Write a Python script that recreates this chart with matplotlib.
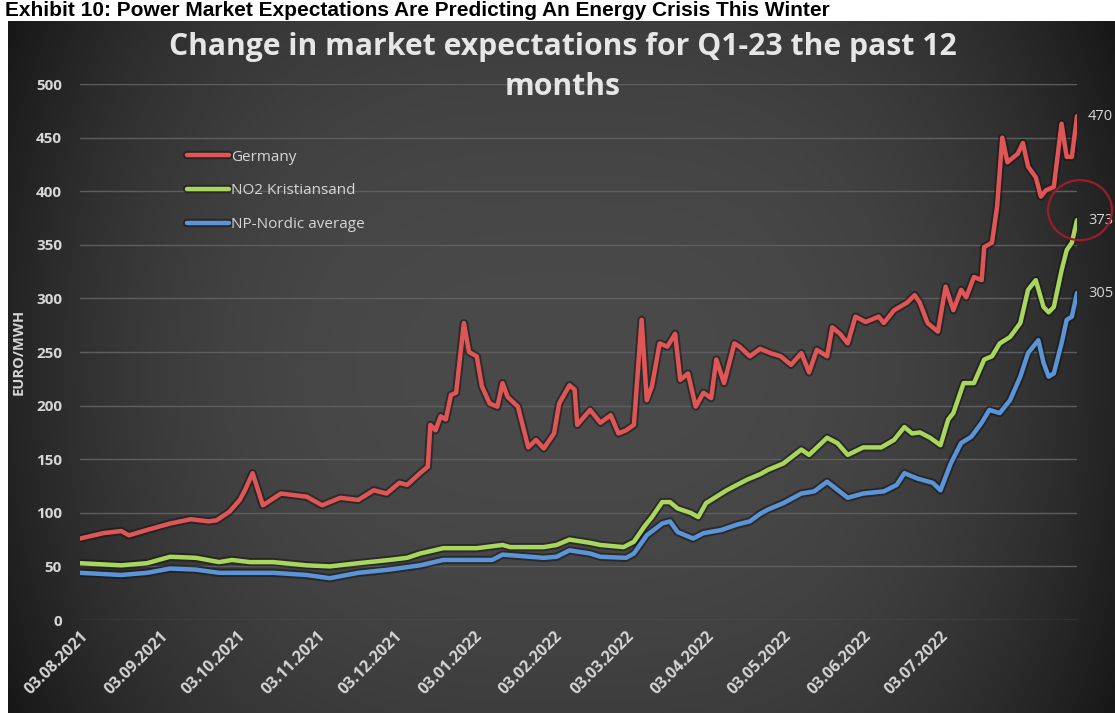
import numpy as np
import pandas as pd
import matplotlib
matplotlib.use("Agg")
import matplotlib.pyplot as plt
import matplotlib.patheffects as pe
from matplotlib.patches import Ellipse
from matplotlib.transforms import ScaledTranslation
import matplotlib.dates as mdates

# ---------------------------------------------------------------- data
header = "Exhibit 10: Power Market Expectations Are Predicting An Energy Crisis This Winter"
title = "Change in market expectations for Q1-23 the past 12\nmonths"
y_label = "EURO/MWH"
series_names = ["Germany", "NO2 Kristiansand", "NP-Nordic average"]
tick_dates = ["2021-08-03", "2021-09-03", "2021-10-03", "2021-11-03",
              "2021-12-03", "2022-01-03", "2022-02-03", "2022-03-03",
              "2022-04-03", "2022-05-03", "2022-06-03", "2022-07-03"]
y_ticks = [0, 50, 100, 150, 200, 250, 300, 350, 400, 450, 500]

germany_dates = [
    "2021-08-03", "2021-08-12", "2021-08-19", "2021-08-22", "2021-08-29",
    "2021-09-07", "2021-09-15", "2021-09-22", "2021-09-25", "2021-09-30",
    "2021-10-04", "2021-10-06", "2021-10-09", "2021-10-13", "2021-10-20",
    "2021-10-30", "2021-11-05", "2021-11-12", "2021-11-19", "2021-11-25",
    "2021-11-30", "2021-12-05", "2021-12-08", "2021-12-13", "2021-12-16",
    "2021-12-17", "2021-12-19", "2021-12-21", "2021-12-23", "2021-12-25",
    "2021-12-27", "2021-12-30", "2022-01-01", "2022-01-04", "2022-01-06",
    "2022-01-09", "2022-01-12", "2022-01-14", "2022-01-16", "2022-01-20",
    "2022-01-24", "2022-01-27", "2022-01-30", "2022-02-03", "2022-02-05",
    "2022-02-09", "2022-02-11", "2022-02-12", "2022-02-17", "2022-02-21",
    "2022-02-25", "2022-02-28", "2022-03-03", "2022-03-06", "2022-03-09",
    "2022-03-11", "2022-03-13", "2022-03-16", "2022-03-19", "2022-03-22",
    "2022-03-24", "2022-03-27", "2022-03-30", "2022-04-02", "2022-04-05",
    "2022-04-07", "2022-04-10", "2022-04-14", "2022-04-16", "2022-04-20",
    "2022-04-24", "2022-04-28", "2022-05-02", "2022-05-06", "2022-05-10",
    "2022-05-13", "2022-05-16", "2022-05-20", "2022-05-22", "2022-05-25",
    "2022-05-28", "2022-05-31", "2022-06-04", "2022-06-09", "2022-06-11",
    "2022-06-15", "2022-06-20", "2022-06-23", "2022-06-25", "2022-06-28",
    "2022-07-02", "2022-07-05", "2022-07-08", "2022-07-11", "2022-07-13",
    "2022-07-16", "2022-07-19", "2022-07-20", "2022-07-23", "2022-07-25",
    "2022-07-27", "2022-07-29", "2022-08-02", "2022-08-04", "2022-08-06",
    "2022-08-09", "2022-08-11", "2022-08-13", "2022-08-16", "2022-08-19",
    "2022-08-21", "2022-08-23", "2022-08-25"]
germany_values = [
    76, 81, 83, 79, 84,
    90, 94, 92, 93, 101,
    112, 121, 137, 107, 118,
    115, 107, 114, 112, 121,
    118, 128, 126, 137, 143,
    182, 177, 190, 187, 210,
    212, 277, 250, 246, 218,
    202, 199, 221, 208, 199,
    161, 168, 160, 174, 202,
    219, 215, 182, 196, 184,
    191, 174, 177, 182, 280,
    205, 218, 258, 255, 267,
    224, 230, 199, 212, 207,
    243, 221, 258, 255, 246,
    253, 249, 246, 238, 249,
    231, 252, 246, 273, 267,
    258, 283, 278, 283, 277,
    289, 296, 303, 296, 277,
    269, 311, 289, 308, 301,
    320, 317, 348, 352, 386,
    450, 427, 435, 445, 423,
    413, 395, 401, 404, 463,
    432, 432, 470]

no2_dates = [
    "2021-08-03", "2021-08-19", "2021-08-29", "2021-09-07", "2021-09-17",
    "2021-09-26", "2021-10-01", "2021-10-08", "2021-10-17", "2021-10-30",
    "2021-11-08", "2021-11-19", "2021-12-01", "2021-12-08", "2021-12-13",
    "2021-12-22", "2022-01-04", "2022-01-14", "2022-01-17", "2022-01-30",
    "2022-02-04", "2022-02-09", "2022-02-17", "2022-02-21", "2022-03-02",
    "2022-03-06", "2022-03-10", "2022-03-13", "2022-03-17", "2022-03-20",
    "2022-03-23", "2022-03-28", "2022-03-31", "2022-04-03", "2022-04-07",
    "2022-04-11", "2022-04-15", "2022-04-19", "2022-04-24", "2022-04-27",
    "2022-05-03", "2022-05-10", "2022-05-13", "2022-05-20", "2022-05-24",
    "2022-05-28", "2022-06-03", "2022-06-10", "2022-06-15", "2022-06-19",
    "2022-06-22", "2022-06-25", "2022-06-29", "2022-07-03", "2022-07-06",
    "2022-07-08", "2022-07-12", "2022-07-16", "2022-07-20", "2022-07-23",
    "2022-07-26", "2022-07-30", "2022-08-03", "2022-08-06", "2022-08-09",
    "2022-08-12", "2022-08-14", "2022-08-16", "2022-08-19", "2022-08-21",
    "2022-08-23", "2022-08-25"]
no2_values = [
    53, 51, 53, 59, 58,
    54, 56, 54, 54, 51,
    50, 53, 56, 58, 62,
    67, 67, 70, 68, 68,
    70, 75, 72, 70, 68,
    73, 87, 96, 110, 110,
    104, 100, 96, 109, 115,
    121, 126, 131, 136, 140,
    146, 159, 154, 170, 165,
    154, 161, 161, 168, 180,
    174, 175, 170, 163, 187,
    193, 221, 221, 243, 246,
    258, 264, 277, 308, 317,
    292, 287, 292, 326, 345,
    352, 373]

nordic_dates = [
    "2021-08-03", "2021-08-19", "2021-08-29", "2021-09-07", "2021-09-17",
    "2021-09-26", "2021-10-08", "2021-10-17", "2021-10-30", "2021-11-08",
    "2021-11-19", "2021-12-01", "2021-12-13", "2021-12-22", "2022-01-10",
    "2022-01-14", "2022-01-30", "2022-02-04", "2022-02-09", "2022-02-17",
    "2022-02-21", "2022-03-03", "2022-03-06", "2022-03-11", "2022-03-17",
    "2022-03-20", "2022-03-23", "2022-03-29", "2022-04-02", "2022-04-09",
    "2022-04-15", "2022-04-20", "2022-04-24", "2022-04-27", "2022-05-03",
    "2022-05-10", "2022-05-15", "2022-05-20", "2022-05-28", "2022-06-03",
    "2022-06-11", "2022-06-16", "2022-06-19", "2022-06-24", "2022-06-30",
    "2022-07-03", "2022-07-07", "2022-07-11", "2022-07-15", "2022-07-19",
    "2022-07-22", "2022-07-26", "2022-07-30", "2022-08-03", "2022-08-06",
    "2022-08-10", "2022-08-12", "2022-08-14", "2022-08-16", "2022-08-19",
    "2022-08-21", "2022-08-23", "2022-08-25"]
nordic_values = [
    44, 42, 44, 48, 47,
    44, 44, 44, 42, 39,
    44, 47, 51, 56, 56,
    61, 58, 59, 65, 62,
    59, 58, 62, 79, 90,
    92, 82, 76, 81, 84,
    89, 92, 99, 103, 109,
    118, 120, 129, 114, 118,
    120, 126, 137, 132, 128,
    121, 146, 165, 171, 184,
    196, 193, 205, 227, 249,
    261, 240, 227, 230, 258,
    280, 283, 305]

# ---------------------------------------------------------------- style
W, H, DPI = 1115, 713, 100
text_grey = "#d6d6d6"
grid_grey = "#5e5e5e"
line_colors = ["#e05656", "#a9d65c", "#5b95d8"]
FONT = "Open Sans"

fig = plt.figure(figsize=(W / DPI, H / DPI), dpi=DPI, facecolor="white")

# dark chart panel with a soft vignette
panel = fig.add_axes([8 / W, 0, 1 - 8 / W, (H - 21) / H])
u = np.linspace(-1, 1, 400)[None, :]
v = np.linspace(-1, 1, 300)[:, None]
shade = 0.29 - 0.15 * np.abs(u) ** 3 - 0.05 * v ** 2
panel.imshow(np.dstack([shade] * 3).clip(0, 1), aspect="auto",
             extent=[0, 1, 0, 1], interpolation="bicubic")
panel.set_axis_off()

# header line above the panel
fig.text(5 / W, 1 - 16 / H, header, fontsize=15, fontweight="bold",
         family="Liberation Sans", color="black", va="baseline", ha="left")

# chart title
fig.text(563 / W, 1 - 67 / H, title, fontsize=21.7, fontweight="bold",
         family=FONT, color="#e6e6e6", ha="center", va="center",
         linespacing=1.42)

ax = fig.add_axes([80 / W, (H - 620) / H, 997 / W, 536 / H])
ax.set_facecolor("none")

dates = [pd.to_datetime(d) for d in (germany_dates, no2_dates, nordic_dates)]
values = [germany_values, no2_values, nordic_values]

shadow = [pe.Stroke(linewidth=6, foreground="#151515", alpha=0.55), pe.Normal()]
handles = []
for d, vals, c, name in zip(dates, values, line_colors, series_names):
    ln, = ax.plot(d, vals, color=c, lw=3.2, solid_joinstyle="round",
                  solid_capstyle="round", label=name, path_effects=shadow,
                  zorder=3)
    handles.append(ln)
    ax.annotate(f"{vals[-1]}", xy=(d[-1], vals[-1]), xytext=(8, 0),
                textcoords="offset points", va="center", ha="left",
                fontsize=10.5, family=FONT, color=text_grey,
                annotation_clip=False)

ax.set_xlim(dates[0][0], dates[0][-1])
ax.set_ylim(0, 500)
ax.set_yticks(y_ticks)
ax.set_yticklabels([str(t) for t in y_ticks], fontsize=11, family=FONT,
                   fontweight="bold", color=text_grey)
ticks = pd.to_datetime(tick_dates)
ax.set_xticks(ticks)
ax.set_xticklabels([t.strftime("%d.%m.%Y") for t in ticks], fontsize=11.5,
                   family=FONT, fontweight="bold", color=text_grey,
                   rotation=45, ha="right", rotation_mode="anchor")
ax.tick_params(axis="both", length=0)
ax.tick_params(axis="y", pad=13)
ax.tick_params(axis="x", pad=6)
ax.grid(axis="y", color=grid_grey, lw=1)
ax.set_axisbelow(True)
for s in ax.spines.values():
    s.set_visible(False)

fig.text(19 / W, (H - 352) / H, y_label, rotation=90, fontsize=10.5,
         fontweight="bold", family=FONT, color=text_grey,
         ha="center", va="center")

leg = ax.legend(handles=handles, loc="upper left",
                bbox_to_anchor=(0.107, 0.8775), frameon=False,
                handlelength=2.8, handletextpad=0.1, labelspacing=1.22,
                borderpad=0, borderaxespad=0,
                prop={"family": FONT, "size": 11})
for t in leg.get_texts():
    t.set_color(text_grey)

# red ring around the NO2 end point
end_x = mdates.date2num(dates[1][-1])
ring = Ellipse((0.03, 0.10), 0.64, 0.60, fill=False, edgecolor="#9c1c2a",
               lw=1.6, clip_on=False, zorder=4,
               transform=fig.dpi_scale_trans +
               ScaledTranslation(end_x, no2_values[-1], ax.transData))
ax.add_artist(ring)

fig.savefig("out.png", dpi=DPI, facecolor="white")
